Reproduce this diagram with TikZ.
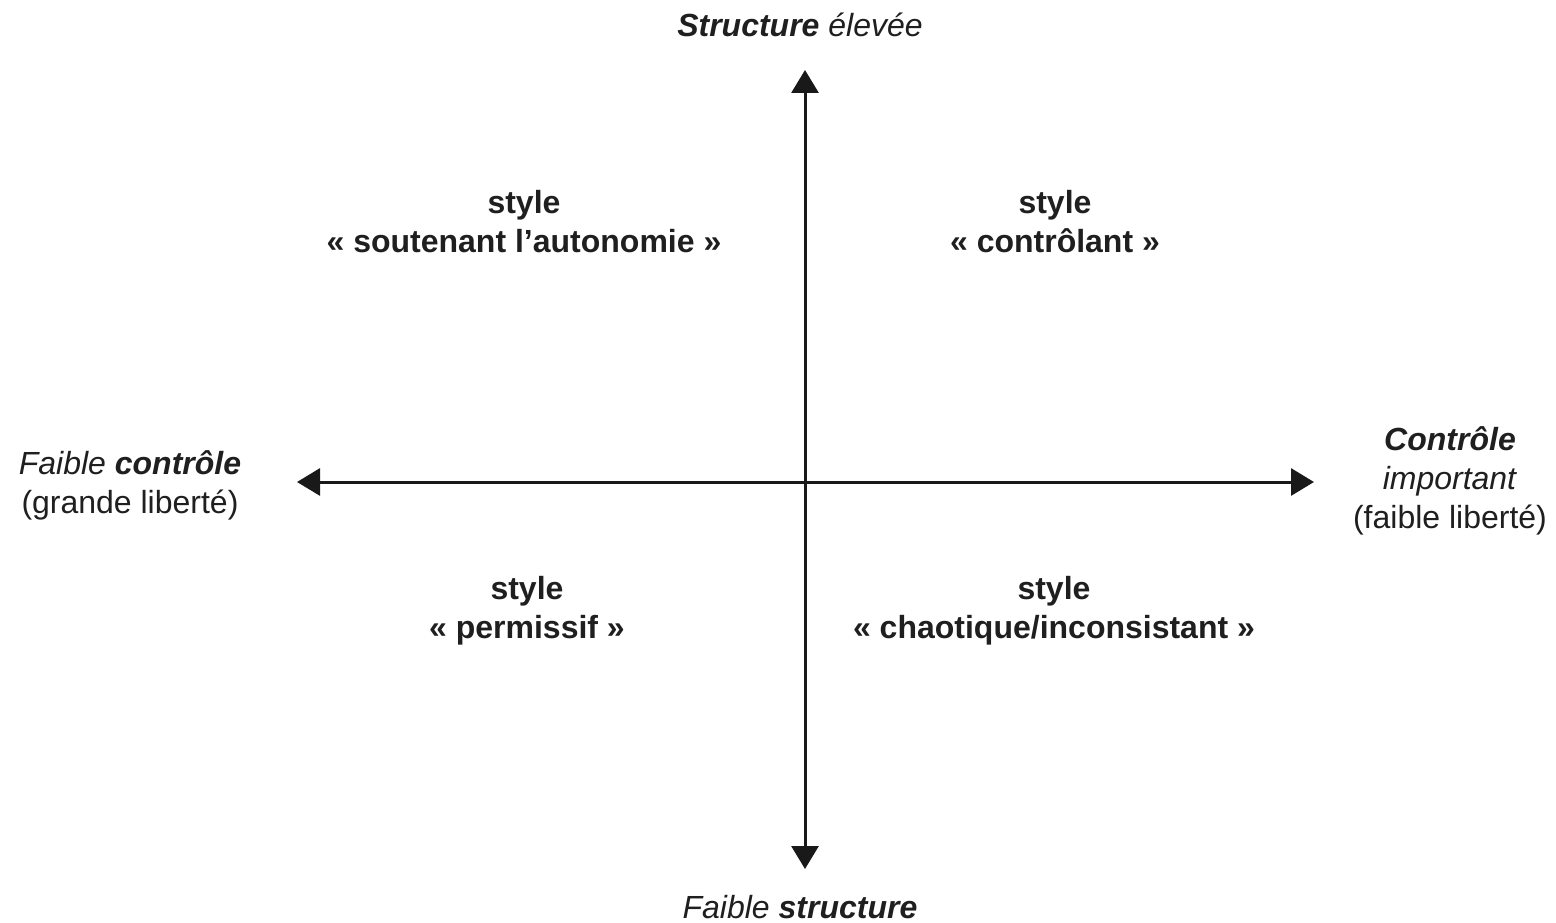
\documentclass[tikz,border=0pt]{standalone}
\usepackage{fontspec}
\setmainfont{Liberation Sans}
\usetikzlibrary{arrows.meta}
\begin{document}
\begin{tikzpicture}[x=1pt,y=-1pt,
  lbl/.style={font=\fontsize{32}{39}\selectfont, align=center, inner sep=0pt, text=black!88},
  qlbl/.style={lbl, font=\fontsize{32}{39}\selectfont\bfseries},
  axis/.style={line width=3pt, black!90, -{Triangle[length=23pt,width=27pt]}}]
\useasboundingbox (0,0) rectangle (1556,923);
\coordinate (c) at (805,482);
\coordinate (top) at (805,70);
\coordinate (bot) at (805,869);
\coordinate (lft) at (297,482);
\coordinate (rgt) at (1314,482);
\draw[axis] (c) -- (top);
\draw[axis] (c) -- (bot);
\draw[axis] (c) -- (lft);
\draw[axis] (c) -- (rgt);
\node[lbl] (tlab) at (800,25) {\textbf{\itshape Structure} \textit{élevée}};
\node[lbl] (blab) at (800,907) {\textit{Faible} \textbf{\itshape structure}};
\node[lbl] (llab) at (130,485) {\textit{Faible} \textbf{\itshape contrôle}\\(grande liberté)};
\node[lbl] (rlab) at (1450,481) {\textbf{\itshape Contrôle}\\\textit{important}\\(faible liberté)};
\node[qlbl] (q1) at (524,222) {style\\« soutenant l’autonomie »};
\node[qlbl] (q2) at (1055,222) {style\\« contrôlant »};
\node[qlbl] (q3) at (527,611) {style\\« permissif »};
\node[qlbl] (q4) at (1054,611) {style\\« chaotique/inconsistant »};
\end{tikzpicture}
\end{document}
